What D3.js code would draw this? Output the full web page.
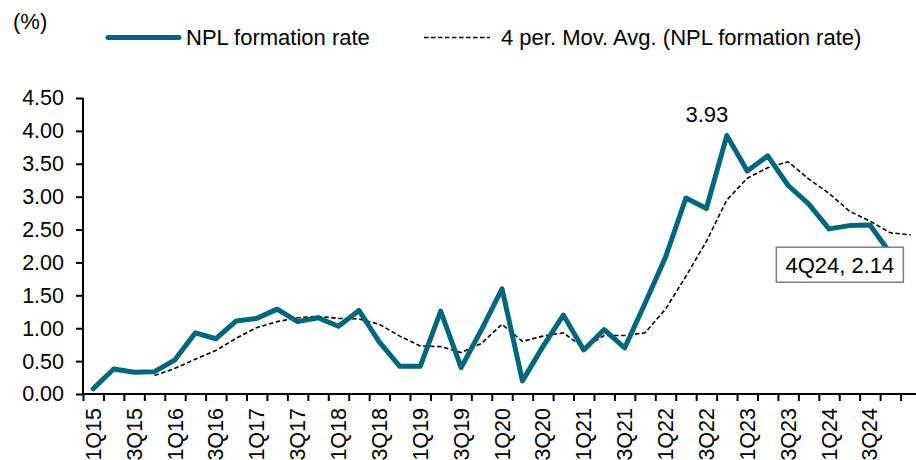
<!DOCTYPE html>
<html>
<head>
<meta charset="utf-8">
<script src="https://cdn.jsdelivr.net/npm/d3@7/dist/d3.min.js"></script>
<style>
  html, body { margin: 0; padding: 0; background: #fff; }
  svg { display: block; }
  text { font-family: "Liberation Sans", Arial, sans-serif; fill: #000; }
</style>
</head>
<body>
<div id="chart"></div>
<script>
// ---------- data ----------
const categories = [
  "1Q15","2Q15","3Q15","4Q15","1Q16","2Q16","3Q16","4Q16",
  "1Q17","2Q17","3Q17","4Q17","1Q18","2Q18","3Q18","4Q18",
  "1Q19","2Q19","3Q19","4Q19","1Q20","2Q20","3Q20","4Q20",
  "1Q21","2Q21","3Q21","4Q21","1Q22","2Q22","3Q22","4Q22",
  "1Q23","2Q23","3Q23","4Q23","1Q24","2Q24","3Q24","4Q24",
  ""
];
const nplRate = [
  0.08, 0.38, 0.33, 0.34, 0.52, 0.93, 0.84, 1.11,
  1.15, 1.29, 1.10, 1.16, 1.03, 1.27, 0.79, 0.42,
  0.42, 1.26, 0.40, 0.98, 1.60, 0.20, 0.72, 1.20,
  0.67, 0.98, 0.70, 1.38, 2.08, 2.98, 2.82, 3.93,
  3.39, 3.62, 3.17, 2.89, 2.51, 2.56, 2.57, 2.14
];
const movAvg4 = [
  null, null, null, 0.28, 0.39, 0.53, 0.66, 0.85,
  1.01, 1.10, 1.16, 1.18, 1.15, 1.14, 1.06, 0.88,
  0.73, 0.72, 0.63, 0.77, 1.06, 0.80, 0.88, 0.93,
  0.70, 0.89, 0.89, 0.93, 1.29, 1.79, 2.32, 2.95,
  3.28, 3.44, 3.53, 3.27, 3.05, 2.78, 2.63, 2.45,
  2.42
];
const yTicks = [0, 0.5, 1, 1.5, 2, 2.5, 3, 3.5, 4, 4.5];
const seriesNames = ["NPL formation rate", "4 per. Mov. Avg. (NPL formation rate)"];
const peakLabel = "3.93";
const lastLabel = "4Q24, 2.14";

// ---------- layout ----------
(function () {
const W = 916, H = 460;
const pLeft = 83, pRight = 921, pTop = 98, pBottom = 394;
const teal = "#00657f";
const FS = 22, FT = 21.5;
const dash = "4.5,2.5";

const svg = d3.select("#chart").append("svg")
  .attr("width", W).attr("height", H);

const idx = d3.range(categories.length);
const x = d3.scaleBand().domain(idx).range([pLeft, pRight]).paddingInner(0).paddingOuter(0);
const xb = d3.scaleLinear().domain([0, categories.length]).range([pLeft, pRight]);
const y = d3.scaleLinear().domain([0, 4.5]).range([pBottom, pTop]);
const cx = i => x(i) + x.bandwidth() / 2;

// y axis
const yAxis = svg.append("g")
  .attr("transform", `translate(${pLeft},0)`)
  .call(d3.axisLeft(y).tickValues(yTicks).tickFormat(d3.format(".2f")).tickSize(7).tickPadding(12));
yAxis.select(".domain").attr("stroke", "#000").attr("stroke-width", 2).attr("d", `M0,${pBottom}V${pTop}`);
yAxis.selectAll(".tick line").attr("stroke", "#000").attr("stroke-width", 2);
yAxis.selectAll(".tick text").style("font-size", FT + "px").attr("fill", "#000");

// x axis tick marks (between categories)
const xTickAxis = svg.append("g")
  .attr("transform", `translate(0,${pBottom})`)
  .call(d3.axisBottom(xb).tickValues(d3.range(categories.length + 1)).tickFormat("").tickSize(7));
xTickAxis.select(".domain").attr("stroke", "#000").attr("stroke-width", 2).attr("d", `M${pLeft},0H${pRight}`);
xTickAxis.selectAll(".tick line").attr("stroke", "#000").attr("stroke-width", 2);

// x axis labels (every other category)
const xLab = svg.append("g")
  .attr("transform", `translate(0,${pBottom})`)
  .call(d3.axisBottom(x).tickValues(idx.filter(i => i % 2 === 0 && categories[i] !== ""))
        .tickFormat(i => categories[i]).tickSize(0));
xLab.select(".domain").remove();
xLab.selectAll(".tick text")
  .style("font-size", FT + "px").attr("fill", "#000")
  .attr("transform", "rotate(-90)")
  .attr("text-anchor", "end")
  .attr("x", -14).attr("y", 0).attr("dy", "0.35em");

// moving average line
const maLine = d3.line()
  .defined(d => d.v != null)
  .x(d => cx(d.i)).y(d => y(d.v));
svg.append("path")
  .datum(movAvg4.map((v, i) => ({ i, v })))
  .attr("d", maLine)
  .attr("fill", "none").attr("stroke", "#000")
  .attr("stroke-width", 1.6).attr("stroke-dasharray", dash);

// main line
const mainLine = d3.line().x(d => cx(d.i)).y(d => y(d.v));
svg.append("path")
  .datum(nplRate.map((v, i) => ({ i, v })))
  .attr("d", mainLine)
  .attr("fill", "none").attr("stroke", teal)
  .attr("stroke-width", 5).attr("stroke-linejoin", "round").attr("stroke-linecap", "round");

// peak label
const peakI = nplRate.indexOf(d3.max(nplRate));
svg.append("text")
  .attr("x", cx(peakI) - 20).attr("y", y(nplRate[peakI]) - 13)
  .attr("text-anchor", "middle").style("font-size", FS + "px")
  .text(peakLabel);

// last value label box
const lastI = nplRate.length - 1;
const bx = cx(lastI) - 114, byTop = y(nplRate[lastI]) - 6;
const bw = 127, bh = 35;
svg.append("rect")
  .attr("x", bx).attr("y", byTop).attr("width", bw).attr("height", bh)
  .attr("fill", "#fff").attr("stroke", "#7f7f7f").attr("stroke-width", 1.5);
svg.append("text")
  .attr("x", bx + bw / 2).attr("y", byTop + 26)
  .attr("text-anchor", "middle").style("font-size", FS + "px")
  .text(lastLabel);

// unit label
svg.append("text").attr("x", 13).attr("y", 29).style("font-size", FS + "px").text("(%)");

// legend
const lg = svg.append("g");
lg.append("line").attr("x1", 108).attr("x2", 179).attr("y1", 37.5).attr("y2", 37.5)
  .attr("stroke", teal).attr("stroke-width", 5).attr("stroke-linecap", "round");
lg.append("text").attr("x", 186).attr("y", 45).style("font-size", FS + "px").text(seriesNames[0]);
lg.append("line").attr("x1", 424).attr("x2", 490).attr("y1", 37.5).attr("y2", 37.5)
  .attr("stroke", "#000").attr("stroke-width", 1.6).attr("stroke-dasharray", dash);
lg.append("text").attr("x", 501).attr("y", 45).style("font-size", FS + "px").text(seriesNames[1]);
})();
</script>
</body>
</html>
